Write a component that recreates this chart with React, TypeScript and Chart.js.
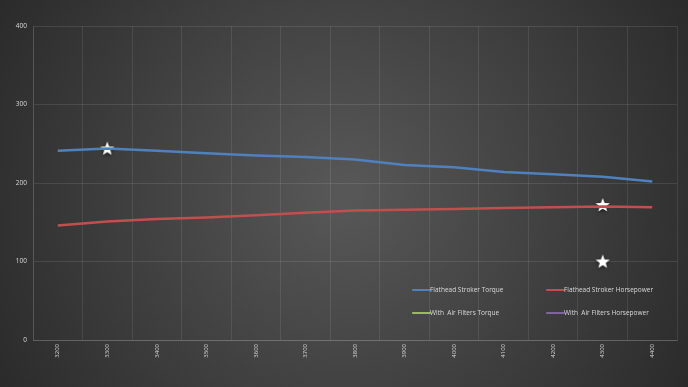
import React, { useEffect, useRef } from "react";
import { Chart, registerables } from "chart.js";

Chart.register(...registerables);

const rpm = ["3200", "3300", "3400", "3500", "3600", "3700", "3800", "3900", "4000", "4100", "4200", "4300", "4400"];
const strokerTorque = [241, 244, 241, 238, 235, 233, 230, 223, 220, 214, 211, 208, 202];
const strokerHorsepower = [146, 151, 154, 156, 159, 162, 165, 166, 167, 168, 169, 170, 169];
const filtersTorque: (number | null)[] = rpm.map(() => null);
const filtersHorsepower: (number | null)[] = rpm.map(() => null);
const starPoints = [
  { x: "3300", y: 244 },
  { x: "4300", y: 172 },
  { x: "4300", y: 100 },
];
const yTicks = [0, 100, 200, 300, 400];

function makeStar(): HTMLCanvasElement {
  const c = document.createElement("canvas");
  c.width = 22;
  c.height = 22;
  const g = c.getContext("2d")!;
  g.shadowColor = "rgba(0,0,0,0.8)";
  g.shadowBlur = 3;
  g.shadowOffsetY = 1;
  g.fillStyle = "#ffffff";
  g.beginPath();
  const cx = 11, cy = 11.5, R = 7.5, r = 3.2;
  for (let i = 0; i < 10; i++) {
    const ang = -Math.PI / 2 + (i * Math.PI) / 5;
    const rad = i % 2 === 0 ? R : r;
    const px = cx + rad * Math.cos(ang);
    const py = cy + rad * Math.sin(ang);
    if (i === 0) g.moveTo(px, py);
    else g.lineTo(px, py);
  }
  g.closePath();
  g.fill();
  return c;
}

const bgPlugin = {
  id: "bgGradient",
  beforeDraw(chart: any) {
    const { ctx, width, height } = chart;
    ctx.save();
    const grd = ctx.createRadialGradient(width / 2, height / 2, 10, width / 2, height / 2, width * 0.62);
    grd.addColorStop(0, "#575757");
    grd.addColorStop(1, "#272727");
    ctx.fillStyle = grd;
    ctx.fillRect(0, 0, width, height);
    ctx.restore();
  },
};

const legendPlugin = {
  id: "customLegend",
  afterDraw(chart: any) {
    const { ctx } = chart;
    const items = chart.data.datasets.filter((d: any) => !d.hideLegend);
    const cols = [413, 547];
    const rows = [290, 313];
    ctx.save();
    ctx.font = "6.5px 'Open Sans', sans-serif";
    ctx.textBaseline = "middle";
    ctx.textAlign = "left";
    items.forEach((d: any, i: number) => {
      const x = cols[i % 2];
      const y = rows[Math.floor(i / 2)];
      ctx.strokeStyle = d.borderColor;
      ctx.lineWidth = 2.2;
      ctx.lineCap = "round";
      ctx.beginPath();
      ctx.moveTo(x, y);
      ctx.lineTo(x + 17, y);
      ctx.stroke();
      ctx.fillStyle = "#d9d9d9";
      ctx.fillText(d.label, x + 17, y);
    });
    ctx.restore();
  },
};

export default function App() {
  const ref = useRef<HTMLCanvasElement>(null);
  useEffect(() => {
    document.body.style.margin = "0";
    const star = makeStar();
    const chart = new Chart(ref.current!, {
      type: "line",
      data: {
        labels: rpm,
        datasets: [
          {
            label: "Flathead Stroker Torque",
            data: strokerTorque,
            borderColor: "#4f81bd",
            borderWidth: 2.5,
            pointRadius: 0,
            tension: 0,
          },
          {
            label: "Flathead Stroker Horsepower",
            data: strokerHorsepower,
            borderColor: "#c0504d",
            borderWidth: 2.5,
            pointRadius: 0,
            tension: 0,
          },
          {
            label: "With  Air Filters Torque",
            data: filtersTorque,
            borderColor: "#9bbb59",
            borderWidth: 2.5,
            pointRadius: 0,
          },
          {
            label: "With  Air Filters Horsepower",
            data: filtersHorsepower,
            borderColor: "#8064a2",
            borderWidth: 2.5,
            pointRadius: 0,
          },
          {
            label: "stars",
            data: starPoints as any,
            showLine: false,
            pointStyle: star as any,
            pointRadius: 8,
            borderColor: "#ffffff",
            hideLegend: true,
          } as any,
        ],
      },
      options: {
        responsive: false,
        animation: false,
        layout: { padding: { top: 26, right: 11, left: 0, bottom: 0 } },
        plugins: { legend: { display: false }, tooltip: { enabled: false } },
        scales: {
          x: {
            type: "category",
            offset: true,
            grid: { offset: true, color: "rgba(255,255,255,0.09)", lineWidth: 1, drawTicks: false },
            border: { color: "rgba(255,255,255,0.15)" },
            ticks: {
              color: "#d9d9d9",
              font: { size: 6, family: "'Open Sans', sans-serif" },
              minRotation: 90,
              maxRotation: 90,
              padding: 4,
            },
            afterFit: (s: any) => {
              s.height = 47;
            },
          },
          y: {
            min: 0,
            max: 400,
            afterBuildTicks: (s: any) => {
              s.ticks = yTicks.map((v) => ({ value: v }));
            },
            grid: { color: "rgba(255,255,255,0.1)", lineWidth: 1, drawTicks: false },
            border: { color: "rgba(255,255,255,0.1)" },
            ticks: {
              color: "#d9d9d9",
              font: { size: 6.5, family: "'Open Sans', sans-serif" },
              padding: 6,
            },
            afterFit: (s: any) => {
              s.width = 33;
            },
          },
        },
      },
      plugins: [bgPlugin, legendPlugin],
    });
    return () => chart.destroy();
  }, []);
  return <canvas ref={ref} width={688} height={387} style={{ display: "block" }} />;
}
